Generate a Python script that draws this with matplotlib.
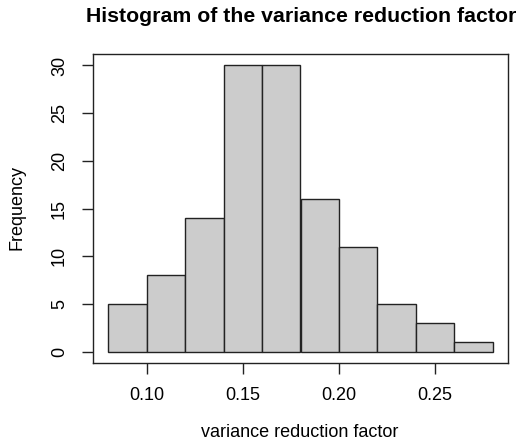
import matplotlib
matplotlib.use('Agg')
import matplotlib.pyplot as plt

# histogramme du facteur de reduction de variance
bin_edges = [0.08, 0.10, 0.12, 0.14, 0.16, 0.18, 0.20, 0.22, 0.24, 0.26, 0.28]
counts = [5, 8, 14, 30, 30, 16, 11, 5, 3, 1]
xticks = [0.10, 0.15, 0.20, 0.25]
yticks = [0, 5, 10, 15, 20, 25, 30]

plt.rcParams['font.family'] = ['Liberation Sans', 'DejaVu Sans']

fig = plt.figure(figsize=(5.17, 4.40), dpi=100)
ax = fig.add_axes([93/517, 77/440, 415/517, 309/440])

widths = [bin_edges[i+1] - bin_edges[i] for i in range(len(counts))]
ax.bar(bin_edges[:-1], counts, width=widths, align='edge',
       color='#cccccc', edgecolor='#222222', linewidth=1.0)

# limites a la R (extension de 4 %)
xr = bin_edges[-1] - bin_edges[0]
ax.set_xlim(bin_edges[0] - 0.04*xr, bin_edges[-1] + 0.04*xr)
ax.set_ylim(-0.04*30, 30*1.04)

ax.set_xticks(xticks)
ax.set_xticklabels(['%.2f' % v for v in xticks])
ax.set_yticks(yticks)
ax.set_yticklabels([str(v) for v in yticks], rotation=90, va='center')
ax.tick_params(axis='x', length=8, width=1.0, pad=9, labelsize=13, color='#222222')
ax.tick_params(axis='y', length=8, width=1.0, pad=10, labelsize=13, color='#222222')

for s in ax.spines.values():
    s.set_linewidth(1.0)
    s.set_color('#222222')

fig.text(300/517, 1 - 437/440, 'variance reduction factor', ha='center', va='baseline', fontsize=13)
fig.text(17/517, 1 - 208/440, 'Frequency', ha='center', va='center', rotation=90, fontsize=13)
fig.text(301/517, 1 - 17/440, 'Histogram of the variance reduction factor',
         ha='center', va='center', fontsize=15.3, fontweight='bold')

plt.savefig('out.png', dpi=100)
